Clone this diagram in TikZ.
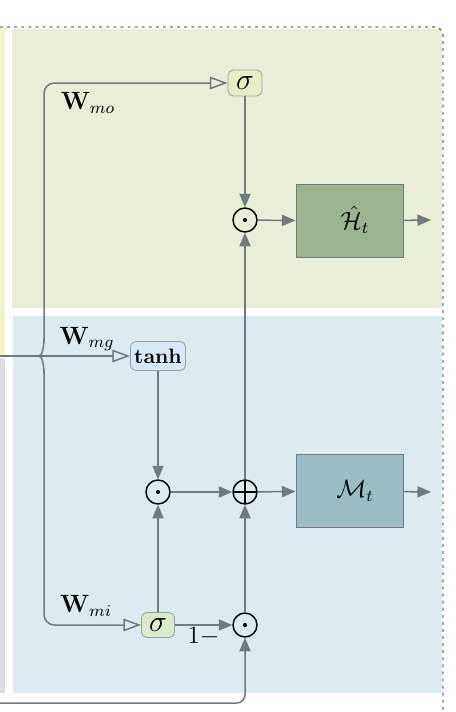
\documentclass[tikz,border=0pt]{standalone}
\usepackage{amsmath}
\usetikzlibrary{arrows.meta}
\definecolor{linegray}{RGB}{112,122,127}
\definecolor{outbg}{RGB}{233,238,217}
\definecolor{membg}{RGB}{219,235,240}
\definecolor{sidey}{RGB}{246,243,204}
\definecolor{sideg}{RGB}{221,221,225}
\definecolor{sigo}{RGB}{232,238,196}
\definecolor{tanhc}{RGB}{213,233,246}
\definecolor{sigi}{RGB}{219,233,206}
\definecolor{hcol}{RGB}{155,179,143}
\definecolor{mcol}{RGB}{153,188,197}

\begin{document}
\begin{tikzpicture}[x=0.48pt,y=-0.48pt,
  wire/.style={draw=linegray,line width=0.72pt},
  tip/.style={-{Triangle[length=6.5pt,width=5.3pt]}},
  wtip/.style={-{Triangle[open,length=8.5pt,width=6pt]}},
  gate/.style={draw=linegray!70,rounded corners=2.5pt,inner sep=0.5pt,line width=0.4pt},
  op/.style={circle,draw,line width=0.7pt,minimum size=11.5pt,inner sep=0pt},
  dotop/.style={op,path picture={\fill (path picture bounding box.center) circle (1pt);}},
  plusop/.style={op,path picture={\draw[line width=0.6pt] (path picture bounding box.north) -- (path picture bounding box.south) (path picture bounding box.west) -- (path picture bounding box.east);}},
  statebox/.style={draw=linegray,line width=0.5pt,minimum width=51.8pt,minimum height=34.6pt},
  big/.style={font=\large}]
\useasboundingbox (0,0) rectangle (456,712);
% backgrounds:
\fill[outbg] (12,29) rectangle (442,308);
\fill[membg] (13,316) rectangle (442,693);
\fill[sidey] (0,28) rectangle (5,354);
\fill[sideg] (0,358) rectangle (5,693);
\draw[linegray,line width=0.7pt,dash pattern=on 1.4pt off 2pt,rounded corners=4pt] (0,27) -- (443,27) -- (443,712);
% output gate:
\node[gate,font=\Large,fill=sigo,minimum width=16.3pt,minimum height=12.5pt] (so) at (245,83) {$\sigma$};
\node[dotop] (po) at (245,220) {};
\node[statebox,fill=hcol] (h) at (350,221) {};
\node[big] (htext) at (355,220) {$\hat{\mathcal{H}}_t$};
\coordinate (hout) at (431,220);
% memory update:
\node[gate,fill=tanhc,minimum width=26.4pt,minimum height=13.9pt] (g) at (158,356) {$\mathbf{tanh}$};
\node[dotop] (pg) at (158,492) {};
\node[plusop] (add) at (245,492) {};
\node[statebox,fill=mcol] (m) at (350,491) {};
\node[big] (mtext) at (355,491) {$\mathcal{M}_t$};
\coordinate (mout) at (431,492);
\node[gate,font=\Large,fill=sigi,minimum width=15.8pt,minimum height=12pt] (si) at (158,625) {$\sigma$};
\node[dotop] (pi) at (245,625) {};
% inputs:
\coordinate (in) at (0,356);
\coordinate (brace) at (39,356);
\coordinate (bot) at (0,703);
\node[big] (wmo) at (88,103) {$\mathbf{W}_{mo}$};
\node[big] (wmg) at (87,339) {$\mathbf{W}_{mg}$};
\node[big] (wmi) at (86,606) {$\mathbf{W}_{mi}$};
% bus:
\draw[wire,wtip] (in) -- (g);
\draw[wire,wtip,rounded corners=5pt] (brace) to[out=0,in=90] (44,349) -- (44,83) -- (so);
\draw[wire,wtip,rounded corners=5pt] (brace) to[out=0,in=-90] (44,363) -- (44,625) -- (si);
% flow:
\draw[wire,tip] (so) -- (po);
\draw[wire,tip] (po) -- (h);
\draw[wire,tip] (h) -- (hout);
\draw[wire,tip] (add) -- (po);
\draw[wire,tip] (g) -- (pg);
\draw[wire,tip] (pg) -- (add);
\draw[wire,tip] (add) -- (m);
\draw[wire,tip] (m) -- (mout);
\draw[wire,tip] (si) -- (pg);
\draw[wire,tip] (si) -- node[below,big,inner sep=1pt] (oneminus) {$1-$} (pi);
\draw[wire,tip] (pi) -- (add);
\draw[wire,tip,rounded corners=4pt] (bot) -| (pi);
\end{tikzpicture}
\end{document}
